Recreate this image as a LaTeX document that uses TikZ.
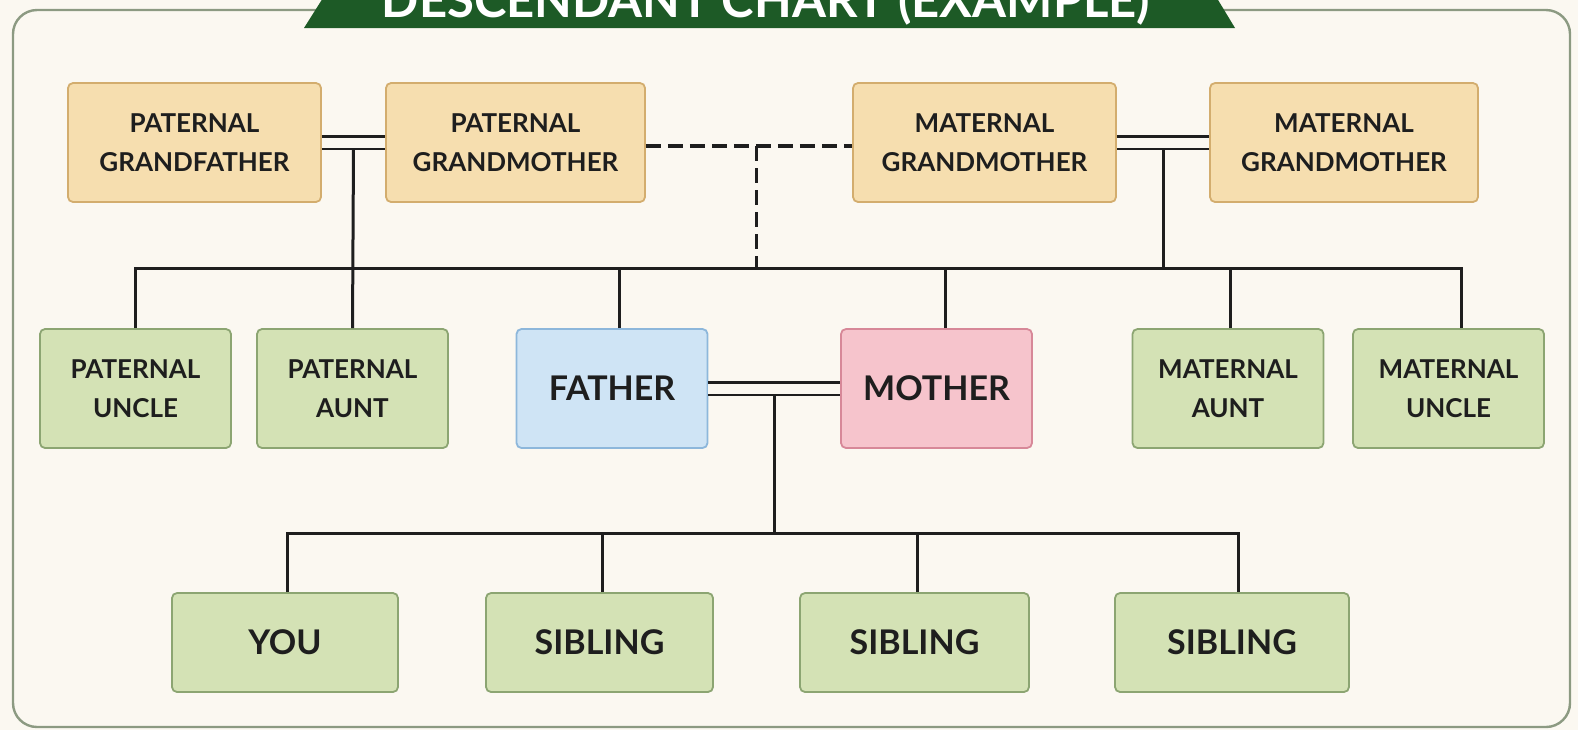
\documentclass[tikz,border=0pt]{standalone}
\usepackage{fontspec}
\setmainfont{Lato}
\usetikzlibrary{calc}
\definecolor{bgcream}{HTML}{FBF8F1}
\definecolor{frameline}{HTML}{8C9A82}
\definecolor{bannergreen}{HTML}{1D5A26}
\definecolor{tanfill}{HTML}{F6DEAF}
\definecolor{tanline}{HTML}{D3AD6E}
\definecolor{kinfill}{HTML}{D4E2B5}
\definecolor{kinline}{HTML}{8CA572}
\definecolor{dadfill}{HTML}{CFE4F5}
\definecolor{dadline}{HTML}{8DB7DB}
\definecolor{momfill}{HTML}{F6C4CC}
\definecolor{momline}{HTML}{D78898}
\definecolor{inkdark}{HTML}{1E1E1E}

\begin{document}
\begin{tikzpicture}
  [x=0.5pt,y=-0.5pt,
   every node/.style={rectangle,rounded corners=2.5pt,line width=0.9pt,align=center,
     text=inkdark,font=\bfseries\fontsize{13}{19.5}\selectfont},
   grand/.style={fill=tanfill,draw=tanline,minimum height=59.5pt},
   kin/.style={fill=kinfill,draw=kinline,minimum width=95.5pt,minimum height=59.5pt},
   parent/.style={minimum width=95.5pt,minimum height=59.5pt,font=\bfseries\fontsize{17}{20}\selectfont},
   child/.style={fill=kinfill,draw=kinline,minimum height=49.5pt,font=\bfseries\fontsize{17}{20}\selectfont},
   link/.style={line width=1.5pt,draw=inkdark},
   wed/.style={link,line width=1.4pt,double=bgcream,double distance=5pt},
   hint/.style={link,line width=1.7pt,dash pattern=on 7.5pt off 3.5pt}]

  \useasboundingbox (0,0) rectangle (1578,730);
  \fill[bgcream] (0,0) rectangle (1578,730);
  \draw[frameline,fill=bgcream,line width=1.2pt,rounded corners=12pt] (13,10) rectangle (1570,727);

  \fill[bannergreen] (328,-10) -- (304,28) -- (1235,28) -- (1212,-10) -- cycle;
  \node[anchor=base,text=white,font=\bfseries\fontsize{24.5}{26}\selectfont] (title) at (766,17) {DESCENDANT CHART (EXAMPLE)};

  \node[grand,minimum width=126.5pt] (pgf) at (194.5,142.5) {PATERNAL\\GRANDFATHER};
  \node[grand,minimum width=129.5pt] (pgm) at (515.5,142.5) {PATERNAL\\GRANDMOTHER};
  \node[grand,minimum width=131.5pt] (mgmL) at (984.5,142.5) {MATERNAL\\GRANDMOTHER};
  \node[grand,minimum width=134pt] (mgmR) at (1344,142.5) {MATERNAL\\GRANDMOTHER};

  \node[kin] (puncle) at (135.5,388.5) {PATERNAL\\UNCLE};
  \node[kin] (paunt) at (352.5,388.5) {PATERNAL\\AUNT};
  \node[parent,fill=dadfill,draw=dadline] (father) at (612,388.5) {FATHER};
  \node[parent,fill=momfill,draw=momline] (mother) at (936.5,388.5) {MOTHER};
  \node[kin] (maunt) at (1228,388.5) {MATERNAL\\AUNT};
  \node[kin] (muncle) at (1448.5,388.5) {MATERNAL\\UNCLE};

  \node[child,minimum width=113pt] (you) at (285,642.5) {YOU};
  \node[child,minimum width=113.5pt] (sib1) at (599.5,642.5) {SIBLING};
  \node[child,minimum width=114.5pt] (sib2) at (914.5,642.5) {SIBLING};
  \node[child,minimum width=117pt] (sib3) at (1232,642.5) {SIBLING};

  \coordinate (pc) at ($(pgf.east)!0.5!(pgm.west)$);
  \coordinate (mc) at ($(mgmL.east)!0.5!(mgmR.west)$);
  \coordinate (pm) at ($(father.east)!0.5!(mother.west)$);
  \coordinate (gap) at ($([yshift=-1.75pt]pgm.east)!0.535!([yshift=-1.75pt]mgmL.west)$);
  \coordinate (busL) at (136,268);
  \coordinate (busR) at (1461,268);
  \coordinate (kidsL) at (287,533);
  \coordinate (kidsR) at (1238,533);

  \foreach \from/\to in {pgf/pgm,mgmL/mgmR,father/mother}
    \draw[wed] (\from.east) -- (\to.west);
  \draw[hint] ([yshift=-1.75pt]pgm.east) -- ([yshift=-1.75pt]mgmL.west);
  \draw[hint] (gap) -- (gap |- busL);

  \draw[link] (busL) -- (busR);
  \draw[link] ([yshift=-3.2pt]pc) -- (paunt.north);
  \draw[link] ([yshift=-3.2pt]mc) -- (mc |- busL);
  \foreach \n/\dx in {puncle/0,father/3.5,mother/4.5,maunt/1,muncle/6.5}
    \draw[link] ([xshift=\dx pt]\n.north) -- ++(0,-61);

  \draw[link] (kidsL) -- (kidsR);
  \draw[link] ([yshift=-3.2pt]pm) -- (pm |- kidsL);
  \foreach \n/\dx in {you/1,sib1/1.25,sib2/1.25,sib3/3}
    \draw[link] ([xshift=\dx pt]\n.north) -- ++(0,-60);

\end{tikzpicture}
\end{document}
